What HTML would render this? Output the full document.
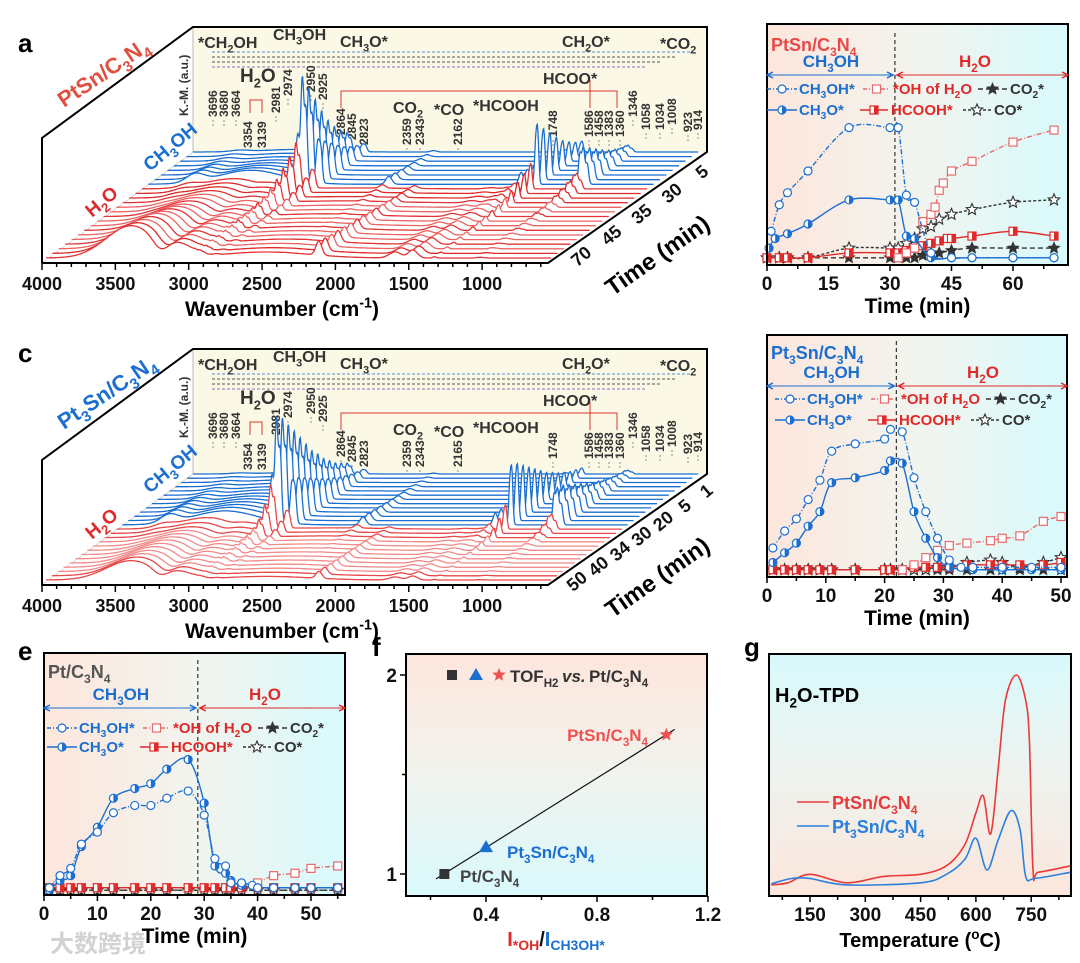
<!DOCTYPE html>
<html><head><meta charset="utf-8"><title>In-situ DRIFTS figure</title>
<style>
html,body{margin:0;padding:0;background:#fff;}
svg{display:block;}
</style></head>
<body>
<svg id="fig" width="1080" height="963" viewBox="0 0 1080 963" xmlns="http://www.w3.org/2000/svg">
<defs>
<linearGradient id="gH" x1="0" y1="0" x2="1" y2="0"><stop offset="0" stop-color="#fde6dc"/><stop offset="0.5" stop-color="#f2f4ee"/><stop offset="1" stop-color="#d8fafd"/></linearGradient>
<linearGradient id="gF" x1="0" y1="0" x2="0" y2="1"><stop offset="0" stop-color="#fde6dc"/><stop offset="0.5" stop-color="#f1f3ee"/><stop offset="1" stop-color="#d9f9fc"/></linearGradient>
<linearGradient id="gG" x1="0" y1="0" x2="0" y2="1"><stop offset="0" stop-color="#d8f9fc"/><stop offset="0.5" stop-color="#eef2ee"/><stop offset="1" stop-color="#fce6dc"/></linearGradient>
</defs>
</svg>
<script>
// ---------------- DATA ----------------
const PK_pos=[3680,2981,2950,2925,2845,2823,2360,1458,1360,1346,1058,1034,1008];
const PK_h=[8,45,100,70,40,30,8,12,35,50,30,35,20];
const A_meoh=[0.02,0.02,0.03,0.03,0.04,0.05,0.06,0.07,0.08,0.1,0.12,0.15,0.2,0.26,0.33,0.42,1.0,0.85,0.7,0.55,0.42,0.32,0.24,0.18];
const A_water=[1,0.95,0.9,0.85,0.8,0.72,0.65,0.58,0.5,0.45,0.4,0.35,0.3,0.25,0.2,0.15,0,0,0,0,0,0,0,0];
const A_co=[1,0.9,0.85,0.8,0.75,0.7,0.65,0.6,0.55,0.5,0.45,0.4,0.35,0.3,0.25,0.2,0,0,0,0,0,0,0,0];
const C_meoh=[0.01,0.01,0.02,0.02,0.03,0.03,0.04,0.05,0.07,0.1,0.15,0.25,0.4,1.0,0.95,0.85,0.75,0.65,0.55,0.45,0.38,0.3,0.24,0.18,0.14,0.1];
const C_water=[0.6,0.58,0.55,0.52,0.5,0.47,0.44,0.4,0.36,0.32,0.28,0.24,0.2,0,0,0,0,0,0,0,0,0,0,0,0,0];
const C_co=[0.5,0.48,0.45,0.42,0.4,0.37,0.34,0.3,0.27,0.24,0.2,0.16,0.12,0,0,0,0,0,0,0,0,0,0,0,0,0];
const A_timeLabels=["5","30","35","45","70"];
const C_timeLabels=["1","5","20","30","34","40","50"];
const WN_ticks=[4000,3500,3000,2500,2000,1500,1000];

const B_t_ch3oh=[1,3,5,10,20,30,32,34,36,40,45,50,60,70];
const B_v_ch3oh=[14,25,30,39,57,57,57,29,26,5,3,3,3,3];
const B_t_ch3o=[0.5,2,5,10,20,30,32,34,36,40,45,50,60,70];
const B_v_ch3o=[7,11,13,17,27,27,27,12,11,3,3,3,3,3];
const B_t_oh=[32,34,36,38,40,41,42,43,45,50,60,70];
const B_v_oh=[3,5,7,18,21,24,31,34,39,43,51,56];
const B_t_hcooh=[0,3,5,10,20,30,32,34,36,38,40,42,44,45,50,60,70];
const B_v_hcooh=[3,3,3,3,5,5,5,6,7,8,9,10,11,11,12,14,12];
const B_t_co2=[0,3,5,10,20,30,32,34,36,38,40,42,45,50,60,70];
const B_v_co2=[3,3,3,3,3,3,3,3,3,4,5,5,6,7,7,7];
const B_t_co=[0,3,5,10,20,30,32,34,36,38,40,42,45,50,60,70];
const B_v_co=[3,3,3,3,7,7,7,9,11,15,16,19,21,23,26,27];
const B_ticks=[0,15,30,45,60];

const D_t_ch3oh=[1,3,5,7,9,11,15,20,21,23,25,27,29,31,33,35,40,45,50];
const D_v_ch3oh=[12,19,24,32,40,52,55,57,61,60,41,27,16,7,4,4,4,4,4];
const D_t_ch3o=[1,3,5,7,9,11,15,20,21,23,25,27,29,31,35,40,45,50];
const D_v_ch3o=[6,10,14,21,27,39,41,44,48,47,27,16,8,4,3,3,3,3];
const D_t_oh=[23,25,27,29,31,34,38,40,43,47,50];
const D_v_oh=[3,5,8,11,13,14,15,16,17,23,25];
const D_t_hcooh=[1,3,5,7,9,11,15,20,21,23,25,27,29,31,34,38,40,43,47,50];
const D_v_hcooh=[3,3,3,3,3,3,3,3,3,3,4,4,4,4,5,5,5,5,5,6];
const D_t_co2=[1,3,5,7,9,11,15,20,21,23,25,27,29,31,34,38,40,43,47,50];
const D_v_co2=[3,3,3,3,3,3,3,3,3,3,3,3,3,3,3,3,3,3,3,3];
const D_t_co=[1,3,5,7,9,11,15,20,21,23,25,27,29,31,34,38,40,43,47,50];
const D_v_co=[3,3,3,3,3,3,3,3,3,3,3,3,4,4,6,7,6,4,6,8];
const D_ticks=[0,10,20,30,40,50];

const E_t_ch3oh=[1,3,5,7,10,13,17,20,23,27,30,32,34,35,37,39,40,43,47,50,55];
const E_v_ch3oh=[3,8,11,21,26,34,37,37,40,43,33,15,12,5,5,4,3,3,3,3,3];
const E_t_ch3o=[1,3,5,7,10,13,17,20,23,27,30,32,34,35,37,40,43,47,50,55];
const E_v_ch3o=[2,6,8,20,28,40,44,46,52,56,38,12,9,6,4,3,3,3,3,3];
const E_t_oh=[40,43,47,50,55];
const E_v_oh=[5,8,9,11,12];
const E_t_flat=[1,3,5,7,10,13,17,20,23,27,30,32,34,35,37,40,43,47,50,55];
const E_v_hcooh=[3,3,3,3,3,3,3,3,3,3,3,3,3,3,3,3,3,3,3,3];
const E_v_co2=[2,2,2,2,2,2,2,2,2,2,2,2,2,2,2,2,2,2,2,2];
const E_v_co=[2,2,2,2,2,2,2,2,2,2,2,2,2,2,2,2,2,2,2,2];
const E_ticks=[0,10,20,30,40,50];

const F_x=[0.25,0.40,1.05];
const F_y=[1.0,1.135,1.70];
const F_xticks=[0.4,0.8,1.2];
const F_yticks=[1,2];

const G_T_red=[45,90,150,250,350,450,520,570,600,620,640,660,680,710,735,745,755,770,858];
const G_red=[0.01,0.02,0.06,0.02,0.05,0.06,0.10,0.20,0.35,0.43,0.25,0.55,0.88,1.0,0.88,0.69,0.08,0.07,0.10];
const G_T_blue=[45,100,150,250,450,520,570,600,630,660,695,720,735,760,858];
const G_blue=[0.015,0.04,0.04,0.01,0.02,0.06,0.13,0.23,0.08,0.22,0.36,0.27,0.05,0.04,0.07];
const G_ticks=[150,300,450,600,750];

// ---------------- HELPERS ----------------
const NS='http://www.w3.org/2000/svg';
const svg=document.getElementById('fig');
const FONT='"Liberation Sans", Arial, sans-serif';
function mk(tag,parent){const e=document.createElementNS(NS,tag);parent.appendChild(e);return e;}
function at(e,o){for(const k in o)e.setAttribute(k,o[k]);return e;}
function grp(parent,name){
  const g=mk('g',parent);
  
  
  return g;
}
function fillSpans(t,s,size,colorOverride){
  const parts=s.split(/(_\{[^}]*\}|\^\{[^}]*\})/);
  let off=0;
  for(const p of parts){
    if(!p) continue;
    const ts=mk('tspan',t);
    let target=0,txtc=p;
    if(p.startsWith('_{')){txtc=p.slice(2,-1);target=size*0.28;ts.setAttribute('font-size',(size*0.68).toFixed(1));}
    else if(p.startsWith('^{')){txtc=p.slice(2,-1);target=-size*0.4;ts.setAttribute('font-size',(size*0.68).toFixed(1));}
    const d=target-off;
    if(Math.abs(d)>0.01) ts.setAttribute('dy',d.toFixed(2));
    off=target;
    if(colorOverride) ts.setAttribute('fill',colorOverride);
    ts.textContent=txtc;
  }
}
function txt(parent,x,y,s,size,color,anchor,rot,name){
  const t=mk('text',parent);
  at(t,{x:x,y:y,'font-size':size,fill:color,'text-anchor':anchor||'start','font-weight':'bold','font-family':FONT});
  if(rot) t.setAttribute('transform','rotate('+rot+' '+x+' '+y+')');
  
  
  fillSpans(t,s,size,null);
  return t;
}
function line(parent,x1,y1,x2,y2,color,w,dash,name){
  const l=mk('line',parent);
  at(l,{x1:x1,y1:y1,x2:x2,y2:y2,stroke:color,'stroke-width':w||1});
  if(dash) l.setAttribute('stroke-dasharray',dash);
  
  
  return l;
}
function pathEl(parent,d,stroke,w,fill,dash,name){
  const p=mk('path',parent);
  at(p,{d:d,stroke:stroke,'stroke-width':w,fill:fill||'none'});
  if(dash) p.setAttribute('stroke-dasharray',dash);
  
  
  return p;
}
function smooth(pts){
  if(pts.length<2) return '';
  let d='M'+pts[0][0].toFixed(1)+','+pts[0][1].toFixed(1);
  for(let i=0;i<pts.length-1;i++){
    const p0=pts[Math.max(0,i-1)],p1=pts[i],p2=pts[i+1],p3=pts[Math.min(pts.length-1,i+2)];
    const c1=[p1[0]+(p2[0]-p0[0])/6,p1[1]+(p2[1]-p0[1])/6];
    const c2=[p2[0]-(p3[0]-p1[0])/6,p2[1]-(p3[1]-p1[1])/6];
    d+=' C'+c1[0].toFixed(1)+','+c1[1].toFixed(1)+' '+c2[0].toFixed(1)+','+c2[1].toFixed(1)+' '+p2[0].toFixed(1)+','+p2[1].toFixed(1);
  }
  return d;
}
function starPath(cx,cy,r){
  let d='';
  for(let k=0;k<10;k++){
    const rr=k%2?r*0.45:r;const a=-Math.PI/2+k*Math.PI/5;
    d+=(k?'L':'M')+(cx+rr*Math.cos(a)).toFixed(1)+','+(cy+rr*Math.sin(a)).toFixed(1);
  }
  return d+'Z';
}
function marker(parent,type,x,y,color,name){
  const g=mk('g',parent);
  
  
  if(type==='oc'){at(mk('circle',g),{cx:x,cy:y,r:4,fill:'#fff',stroke:color,'stroke-width':1.2});}
  else if(type==='hc'){at(mk('circle',g),{cx:x,cy:y,r:4,fill:'#fff',stroke:color,'stroke-width':1.2});
    at(mk('path',g),{d:'M'+x+','+(y-4)+' A4,4 0 0 1 '+x+','+(y+4)+' Z',fill:color});}
  else if(type==='os'){at(mk('rect',g),{x:x-4,y:y-4,width:8,height:8,fill:'#fff',stroke:color,'stroke-width':1.2});}
  else if(type==='hs'){at(mk('rect',g),{x:x-4,y:y-4,width:8,height:8,fill:'#fff',stroke:color,'stroke-width':1.2});
    at(mk('rect',g),{x:x,y:y-4,width:4,height:8,fill:color});}
  else if(type==='fs'){at(mk('path',g),{d:starPath(x,y,6),fill:color,stroke:color,'stroke-width':0.8});}
  else if(type==='es'){at(mk('path',g),{d:starPath(x,y,6),fill:'#fff',stroke:color,'stroke-width':1.1});}
  return g;
}

// ---------------- PANEL LETTERS ----------------
const letters=[['a',18,52],['b',1044,52],['c',18,362],['d',1044,362],['e',18,660],['f',372,656],['g',744,656]];
for(const L of letters){ txt(svg,L[1],L[2],L[0],26,'#000','start',0,'panel-letter-'+L[0]); }

// ---------------- WATERFALL PANELS ----------------
function G(w,p,s){const z=(w-p)/s;return Math.exp(-z*z/2);}
const PK_w=[60,12,10,10,12,10,20,15,8,8,10,10,10];
function spec(w,m,wa,c){
  let y=0;
  for(let k=0;k<PK_pos.length;k++) y+=m*PK_h[k]*G(w,PK_pos[k],PK_w[k]);
  y+=m*14*G(w,3300,220);
  y+=wa*(32*G(w,3420,170)-10*G(w,3220,50)+10*G(w,3080,90)+6*G(w,2500,300));
  y+=c*(14*G(w,2140,20)+8*G(w,1500,30)+6*G(w,1620,40));
  return y;
}
function waterfall(name,oy,meoh,water,co,firstBlue,pinkMid,timeLabels,catLabel,catColor,nums,co2lbl){
  const g=grp(svg,name);
  const ox=46,baseY=258+oy,kx=0.1467,dx=147,dy=-106,N=meoh.length;
  const bw=mk('rect',g);at(bw,{x:193,y:27+oy,width:514,height:125,fill:'#fbf8e5'});
  
  
  line(g,193,27+oy,193,152+oy,'#aaa',0.8,null,'back-wall-edge');
  line(g,42,263+oy,193,152+oy,'#ccc',0.8,null,'floor-edge');
  const guideY=[52,57,62,67];const guideC=['#4a8fd8','#555','#555','#8a6fb8'];
  for(let k=0;k<guideY.length;k++) line(g,212,guideY[k]+oy,690-k*15,guideY[k]+oy,guideC[k],0.9,'3,2','guide-dash');
  pathEl(g,'M341,'+(108+oy)+' L341,'+(91+oy)+' L617,'+(91+oy)+' L617,'+(108+oy),'#d33',1,null,'red-bracket');
  pathEl(g,'M590,'+(108+oy)+' L590,'+(80+oy),'#d33',1,null,'hcoo-bracket');
  pathEl(g,'M250,'+(113+oy)+' L250,'+(100+oy)+' L262,'+(100+oy)+' L262,'+(113+oy),'#d33',1,null,'h2o-bracket');
  for(const n of nums){ txt(g,n[1]+4,n[2]+oy,n[0],12,'#333','start',-90,'band-label-'+n[0]);
    line(g,n[1],n[2]+oy+3,n[1],n[2]+oy+10,'#777',0.8,'2,2','band-leader'); }
  for(let i=N-1;i>=0;i--){
    const t=i/(N-1);const x0=ox+t*dx,y0=baseY+t*dy;
    const pts=[];
    for(let w=4000;w>=556;w-=4){ pts.push([x0+(4000-w)*kx, y0-spec(w,meoh[i],water[i],co[i])]); }
    let d='M'+pts[0][0].toFixed(1)+','+pts[0][1].toFixed(1);
    for(let k=1;k<pts.length;k++) d+='L'+pts[k][0].toFixed(1)+','+pts[k][1].toFixed(1);
    const fillD=d+'L'+pts[pts.length-1][0].toFixed(1)+','+(y0+6).toFixed(1)+'L'+pts[0][0].toFixed(1)+','+(y0+6).toFixed(1)+'Z';
    const f=mk('path',g);at(f,{d:fillD,fill:'#fff',stroke:'none'});
    
    
    let col;
    if(i>=firstBlue) col='#1b6fd1';
    else if(i<2||i>=firstBlue-3) col= pinkMid? '#e84848':'#e02a2a';
    else col= pinkMid? '#f28a8a':'#ec6464';
    if(!pinkMid && i<firstBlue && i%3===0) col='#e23434';
    pathEl(g,d,col,1.3,'none',null,'spectrum-trace-'+i);
  }
  pathEl(g,'M42,'+(263+oy)+' L42,'+(138+oy)+' L193,'+(27+oy)+' L707,'+(27+oy)+' L707,'+(152+oy)+' L548,'+(263+oy)+' L42,'+(263+oy),'#000',2,'none',null,'waterfall-frame');
  for(let w=4000;w>=600;w-=100){
    const x=42+(4000-w)*kx;
    line(g,x,263+oy,x,263+oy+(w%500===0?7:4),'#000',1.5,null,'x-tick');
  }
  for(const w of WN_ticks){ txt(g,42+(4000-w)*kx,290+oy,String(w),18,'#111','middle',0,'x-tick-label'); }
  txt(g,282,316+oy,'Wavenumber (cm^{-1})',21,'#000','middle',0,'x-axis-title');
  const nt=timeLabels.length;
  for(let k=0;k<nt;k++){
    const t=1-(k+0.5)/nt*0.95;
    const x=548+t*159+14,y=263+oy-t*111+14;
    txt(g,x,y,timeLabels[k],18,'#111','middle',-40,'time-tick-label');
  }
  txt(g,662,262+oy,'Time (min)',24,'#000','middle',-35,'time-axis-title');
  txt(g,188,116+oy,'K.-M. (a.u.)',12,'#333','start',-90,'y-axis-title');
  txt(g,64,108+oy,catLabel,22,catColor,'start',-34,'catalyst-label');
  txt(g,150,172+oy,'CH_{3}OH',19,'#1b6fd1','start',-40,'ch3oh-stage-label');
  txt(g,92,218+oy,'H_{2}O',19,'#e02a2a','start',-40,'h2o-stage-label');
  const sp=[['*CH_{2}OH',198,48],['CH_{3}OH',273,40],['CH_{3}O*',340,47],['H_{2}O',240,82],['CO_{2}',393,113],['*CO',434,115],['*HCOOH',473,111],['HCOO*',543,84],['CH_{2}O*',562,47],[co2lbl,660,49]];
  for(const s of sp) txt(g,s[1],s[2]+oy,s[0],s[0]==='H_{2}O'?19:16,'#333','start',0,'species-label');
}
const numsA=[['3696',213,117],['3680',224,117],['3664',236,117],['3354',248,148],['3139',262,148],['2981',276,113],['2974',288,96],['2950',311,92],['2925',323,100],['2864',341,135],['2845',352,140],['2823',364,145],['2359',407,145],['2343',420,145],['2162',458,145],['1748',553,137],['1586',589,137],['1458',599,137],['1383',609,137],['1360',620,137],['1346',633,117],['1058',646,130],['1034',660,130],['1008',672,125],['923',688,132],['914',698,130]];
const numsC=numsA.map(n=>n[0]==='2162'?['2165',n[1],n[2]]:n);
waterfall('panel-a-waterfall',0,A_meoh,A_water,A_co,16,false,A_timeLabels,'PtSn/C_{3}N_{4}','#e05040',numsA,'*CO_{2}');
waterfall('panel-c-waterfall',322,C_meoh,C_water,C_co,13,true,C_timeLabels,'Pt_{3}Sn/C_{3}N_{4}','#1b6fd1',numsC,'*CO_{2}');

// ---------------- TIME PANELS ----------------
const BLUE='#1b6fd1',RED='#e02a2a',LRED='#e86a6a',DARK='#333';
function timePanel(name,bx,by,bw,bh,pxPerMin,ticks,dashT,series,title,titleColor,hdrY,arrowY,legY1,legY2,legX0,lblH2OX){
  const g=grp(svg,name);
  const X=t=>bx+t*pxPerMin, Y=v=>by+bh-v/100*bh;
  const bg=mk('rect',g);at(bg,{x:bx,y:by,width:bw,height:bh,fill:'url(#gH)'});
  
  
  const dx=X(dashT);
  line(g,dx,by+hdrY-18,dx,by+bh,'#333',1.2,'4,3','switch-line');
  for(const s of series){
    const pts=s.t.map((t,k)=>[X(t),Y(s.v[k])]);
    pathEl(g,smooth(pts),s.color,1.4,'none',s.dash,'series-line-'+s.name);
    for(const p of pts) marker(g,s.mk,p[0],p[1],s.color,'marker-'+s.name);
  }
  const fr=mk('rect',g);at(fr,{x:bx,y:by,width:bw,height:bh,fill:'none',stroke:'#000','stroke-width':2});
  
  
  const step=ticks[1]-ticks[0];
  for(let t=0;X(t)<=bx+bw;t+=step/2){
    const major=Math.abs(t/step-Math.round(t/step))<1e-6;
    line(g,X(t),by+bh,X(t),by+bh+(major?6:4),'#000',1.5,null,'x-tick');
  }
  for(const t of ticks) txt(g,X(t),by+bh+25,String(t),19,'#111','middle',0,'x-tick-label');
  txt(g,bx+bw/2,by+bh+48,'Time (min)',21,'#000','middle',0,'x-axis-title');
  txt(g,bx+4,by+hdrY,title,18,titleColor,'start',0,'catalyst-title');
  txt(g,(bx+dx)/2,by+arrowY-8,'CH_{3}OH',17,BLUE,'middle',0,'stage-ch3oh');
  txt(g,lblH2OX,by+arrowY-8,'H_{2}O',17,RED,'middle',0,'stage-h2o');
  pathEl(g,'M'+bx+','+(by+arrowY)+' L'+(dx-2)+','+(by+arrowY),BLUE,1,'none',null,'ch3oh-arrow');
  pathEl(g,'M'+(bx+6)+','+(by+arrowY-3)+' L'+bx+','+(by+arrowY)+' L'+(bx+6)+','+(by+arrowY+3)+' M'+(dx-8)+','+(by+arrowY-3)+' L'+(dx-2)+','+(by+arrowY)+' L'+(dx-8)+','+(by+arrowY+3),BLUE,1.5,'none',null,'ch3oh-arrowheads');
  pathEl(g,'M'+(dx+2)+','+(by+arrowY)+' L'+(bx+bw)+','+(by+arrowY),RED,1,'none',null,'h2o-arrow');
  pathEl(g,'M'+(dx+8)+','+(by+arrowY-3)+' L'+(dx+2)+','+(by+arrowY)+' L'+(dx+8)+','+(by+arrowY+3)+' M'+(bx+bw-6)+','+(by+arrowY-3)+' L'+(bx+bw)+','+(by+arrowY)+' L'+(bx+bw-6)+','+(by+arrowY+3),RED,1.5,'none',null,'h2o-arrowheads');
  const L=[
    [0,30,legY1,'oc',BLUE,'4,2,1,2','CH_{3}OH*',BLUE,32],
    [96,123,legY1,'os',LRED,'4,2,1,2','*OH of H_{2}O',RED,126],
    [211,240,legY1,'fs',DARK,'5,3','CO_{2}*',DARK,243],
    [0,30,legY2,'hc',BLUE,null,'CH_{3}O*',BLUE,32],
    [93,121,legY2,'hs',RED,null,'HCOOH*',RED,124],
    [196,224,legY2,'es',DARK,'3,2','CO*',DARK,227]];
  for(const l of L){
    const yy=by+l[2];
    line(g,legX0+l[0],yy-5,legX0+l[1],yy-5,l[4],1.4,l[5],'legend-line');
    marker(g,l[3],legX0+(l[0]+l[1])/2,yy-5,l[4],'legend-marker');
    txt(g,legX0+l[8],yy,l[6],15,l[7],'start',0,'legend-entry');
  }
}
timePanel('panel-b',767,24,301,241,4.1,B_ticks,31.2,[
  {name:'co2',t:B_t_co2,v:B_v_co2,color:DARK,dash:'5,3',mk:'fs'},
  {name:'co',t:B_t_co,v:B_v_co,color:DARK,dash:'3,2',mk:'es'},
  {name:'hcooh',t:B_t_hcooh,v:B_v_hcooh,color:RED,dash:null,mk:'hs'},
  {name:'oh',t:B_t_oh,v:B_v_oh,color:LRED,dash:'5,2,1,2',mk:'os'},
  {name:'ch3o',t:B_t_ch3o,v:B_v_ch3o,color:BLUE,dash:null,mk:'hc'},
  {name:'ch3oh',t:B_t_ch3oh,v:B_v_ch3oh,color:BLUE,dash:'5,2,1,2',mk:'oc'}],
  'PtSn/C_{3}N_{4}','#e84a4a',27,51,70,91,767,975);
timePanel('panel-d',767,335,300,242,5.88,D_ticks,22,[
  {name:'co2',t:D_t_co2,v:D_v_co2,color:DARK,dash:'5,3',mk:'fs'},
  {name:'co',t:D_t_co,v:D_v_co,color:DARK,dash:'3,2',mk:'es'},
  {name:'hcooh',t:D_t_hcooh,v:D_v_hcooh,color:RED,dash:null,mk:'hs'},
  {name:'oh',t:D_t_oh,v:D_v_oh,color:LRED,dash:'5,2,1,2',mk:'os'},
  {name:'ch3o',t:D_t_ch3o,v:D_v_ch3o,color:BLUE,dash:null,mk:'hc'},
  {name:'ch3oh',t:D_t_ch3oh,v:D_v_ch3oh,color:BLUE,dash:'5,2,1,2',mk:'oc'}],
  'Pt_{3}Sn/C_{3}N_{4}',BLUE,24,51,69,90,775,983);
timePanel('panel-e',44,653,301,242,5.34,E_ticks,28.8,[
  {name:'co2',t:E_t_flat,v:E_v_co2,color:DARK,dash:'5,3',mk:'fs'},
  {name:'co',t:E_t_flat,v:E_v_co,color:DARK,dash:'3,2',mk:'es'},
  {name:'hcooh',t:E_t_flat,v:E_v_hcooh,color:RED,dash:null,mk:'hs'},
  {name:'oh',t:E_t_oh,v:E_v_oh,color:LRED,dash:'5,2,1,2',mk:'os'},
  {name:'ch3o',t:E_t_ch3o,v:E_v_ch3o,color:BLUE,dash:null,mk:'hc'},
  {name:'ch3oh',t:E_t_ch3oh,v:E_v_ch3oh,color:BLUE,dash:'5,2,1,2',mk:'oc'}],
  'Pt/C_{3}N_{4}','#555',25,55,80,99,47,265);

// ---------------- PANEL F ----------------
(function(){
  const g=grp(svg,'panel-f');
  const bx=406,by=654,bw=301,bh=242;
  const X=x=>486+(x-0.4)*277.5, Y=y=>874-(y-1)*199;
  const bg=mk('rect',g);at(bg,{x:bx,y:by,width:bw,height:bh,fill:'url(#gF)'});
  
  
  const n=F_x.length;let sx=0,sy=0,sxx=0,sxy=0;
  for(let i=0;i<n;i++){sx+=F_x[i];sy+=F_y[i];sxx+=F_x[i]*F_x[i];sxy+=F_x[i]*F_y[i];}
  const b=(n*sxy-sx*sy)/(n*sxx-sx*sx),a=(sy-b*sx)/n;
  line(g,X(0.22),Y(a+b*0.22),X(1.08),Y(a+b*1.08),'#111',1.2,null,'fit-line');
  const sq=mk('rect',g);at(sq,{x:X(F_x[0])-5,y:Y(F_y[0])-5,width:10,height:10,fill:'#333'});
  
  
  const tr=mk('path',g);
  at(tr,{d:'M'+X(F_x[1])+','+(Y(F_y[1])-7)+' L'+(X(F_x[1])+7)+','+(Y(F_y[1])+5)+' L'+(X(F_x[1])-7)+','+(Y(F_y[1])+5)+'Z',fill:BLUE});
  
  
  const st=mk('path',g);at(st,{d:starPath(X(F_x[2]),Y(F_y[2]),7),fill:'#f05050'});
  
  
  const ls=mk('rect',g);at(ls,{x:447,y:670,width:10,height:10,fill:'#333'});
  
  
  const lt=mk('path',g);at(lt,{d:'M476,668 L483,680 L469,680Z',fill:BLUE});
  
  
  const lst=mk('path',g);at(lst,{d:starPath(499,675,7),fill:'#f05050'});
  
  
  txt(g,510,682,'TOF_{H2}',17,'#333','start',0,'legend-tof');
  txt(g,562,682,'vs.',17,'#333','start',0,'legend-vs').setAttribute('font-style','italic');
  txt(g,589,682,'Pt/C_{3}N_{4}',17,'#333','start',0,'legend-ref');
  txt(g,648,741,'PtSn/C_{3}N_{4}',17,'#f05050','end',0,'label-ptsn');
  txt(g,507,858,'Pt_{3}Sn/C_{3}N_{4}',17,BLUE,'start',0,'label-pt3sn');
  txt(g,460,882,'Pt/C_{3}N_{4}',17,'#444','start',0,'label-pt');
  const fr=mk('rect',g);at(fr,{x:bx,y:by,width:bw,height:bh,fill:'none',stroke:'#000','stroke-width':2});
  
  
  for(let x=0.2;x<=1.21;x+=0.2) line(g,X(x),by+bh,X(x),by+bh+(Math.round(x*10)%4===0?6:4),'#000',1.5,null,'x-tick');
  for(const x of F_xticks) txt(g,X(x),by+bh+25,x.toFixed(1),19,'#111','middle',0,'x-tick-label');
  for(const y of [1,1.5,2]) line(g,bx-(y%1===0?6:4),Y(y),bx,Y(y),'#000',1.5,null,'y-tick');
  for(const y of F_yticks) txt(g,bx-9,Y(y)+7,String(y),19,'#111','end',0,'y-tick-label');
  const xt=mk('text',g);
  at(xt,{x:556,y:946,'font-size':20,'text-anchor':'middle','font-weight':'bold','font-family':FONT});
  
  
  const s1=mk('tspan',xt);s1.setAttribute('fill',RED);s1.textContent='I';
  const s2=mk('tspan',xt);at(s2,{fill:RED,'font-size':14,dy:4});s2.textContent='*OH';
  const s3=mk('tspan',xt);at(s3,{fill:'#111',dy:-4});s3.textContent='/';
  const s4=mk('tspan',xt);s4.setAttribute('fill',BLUE);s4.textContent='I';
  const s5=mk('tspan',xt);at(s5,{fill:BLUE,'font-size':14,dy:4});s5.textContent='CH3OH*';
})();

// ---------------- PANEL G ----------------
(function(){
  const g=grp(svg,'panel-g');
  const bx=769,by=654,bw=302,bh=242;
  const X=T=>810+(T-150)*55.3/150, Y=v=>887-v*212;
  const bg=mk('rect',g);at(bg,{x:bx,y:by,width:bw,height:bh,fill:'url(#gG)'});
  
  
  pathEl(g,smooth(G_T_red.map((t,k)=>[X(t),Y(G_red[k])])),'#e83a3a',1.6,'none',null,'tpd-ptsn');
  pathEl(g,smooth(G_T_blue.map((t,k)=>[X(t),Y(G_blue[k])])),'#2a80dd',1.6,'none',null,'tpd-pt3sn');
  const fr=mk('rect',g);at(fr,{x:bx,y:by,width:bw,height:bh,fill:'none',stroke:'#000','stroke-width':2});
  
  
  for(let T=75;X(T)<=bx+bw;T+=75) line(g,X(T),by+bh,X(T),by+bh+(T%150===0?6:4),'#000',1.5,null,'x-tick');
  for(const T of G_ticks) txt(g,X(T),by+bh+25,String(T),19,'#111','middle',0,'x-tick-label');
  txt(g,920,947,'Temperature (^{o}C)',20,'#000','middle',0,'x-axis-title');
  txt(g,775,702,'H_{2}O-TPD',20,'#000','start',0,'panel-title');
  line(g,797,802,829,802,'#e83a3a',1.6,null,'legend-line-ptsn');
  txt(g,832,809,'PtSn/C_{3}N_{4}',18,'#e83a3a','start',0,'legend-ptsn');
  line(g,797,826,829,826,'#2a80dd',1.6,null,'legend-line-pt3sn');
  txt(g,832,833,'Pt_{3}Sn/C_{3}N_{4}',18,'#2a80dd','start',0,'legend-pt3sn');
})();

const wm=txt(svg,50,952,'大数跨境',24,'#d2d2d2','start',0,'watermark');
wm.setAttribute('font-family','"Liberation Sans","Noto Sans CJK SC",sans-serif');
</script>
</body></html>
